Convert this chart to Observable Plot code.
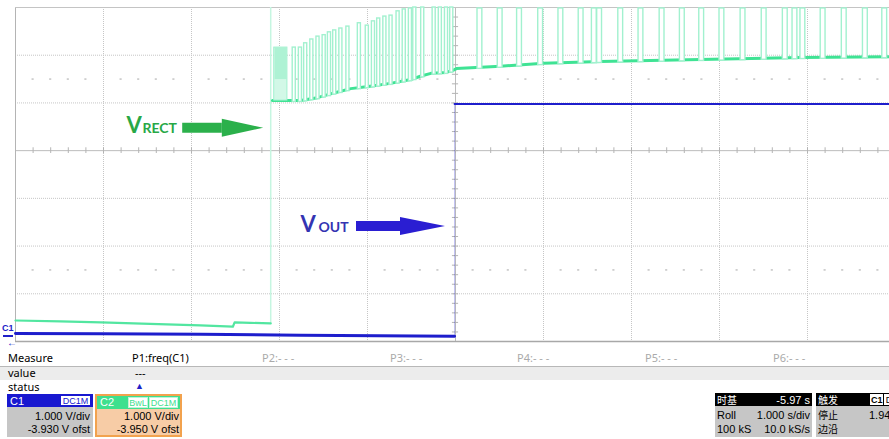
<!DOCTYPE html>
<html><head><meta charset="utf-8">
<script src="https://cdn.jsdelivr.net/npm/d3@7"></script>
<script src="https://cdn.jsdelivr.net/npm/@observablehq/plot@0.6"></script>
<style>
html,body{margin:0;padding:0;background:#fff;overflow:hidden;width:889px;height:439px;}
#wrap{position:relative;width:889px;height:439px;overflow:hidden;font-family:"Liberation Sans",Arial,sans-serif;color:#000;}
#chart{position:absolute;left:0;top:0;}
.a{position:absolute;white-space:nowrap;line-height:1;}
.lbl{font-size:11px;font-family:"Noto Sans","Liberation Sans",sans-serif;line-height:12px;}
.box{position:absolute;box-sizing:border-box;}
.hdr{position:absolute;left:0;right:0;top:0;height:13px;}
.bd{position:absolute;left:0;right:0;top:13px;bottom:0;}
.t{position:absolute;font-size:11px;line-height:12px;white-space:nowrap;}
.cjk{font-family:"Noto Sans CJK SC",sans-serif;font-size:10px;line-height:12px;}
.tag{position:absolute;top:1px;height:11px;box-sizing:border-box;background:#fff;font-size:9px;line-height:10px;text-align:center;}
</style></head><body><div id="wrap"><div id="chart"></div>
<div class="a" style="left:2px;top:324px;font-size:9px;color:#2020c8;font-weight:bold;">C1</div>
<div class="a" style="left:3px;top:335px;width:10px;height:2px;background:#2020c8;"></div>
<div class="a" style="left:7px;top:338px;font-size:10px;color:#2020c8;">&#8592;</div>
<div class="a lbl" style="left:8px;top:352px;">Measure</div>
<div class="a lbl" style="left:132px;top:352px;">P1:freq(C1)</div>
<div class="a lbl" style="left:262px;top:352px;color:#aaa;">P2:- - -</div>
<div class="a lbl" style="left:390px;top:352px;color:#aaa;">P3:- - -</div>
<div class="a lbl" style="left:517px;top:352px;color:#aaa;">P4:- - -</div>
<div class="a lbl" style="left:645px;top:352px;color:#aaa;">P5:- - -</div>
<div class="a lbl" style="left:773px;top:352px;color:#aaa;">P6:- - -</div>
<div class="a" style="left:0;top:366px;width:889px;height:1px;background:#b8b8b8;"></div>
<div class="a" style="left:0;top:367px;width:889px;height:13px;background:#ececec;"></div>
<div class="a lbl" style="left:8px;top:367px;">value</div>
<div class="a lbl" style="left:135px;top:367px;">---</div>
<div class="a lbl" style="left:8px;top:381px;">status</div>
<div class="a" style="left:135px;top:382px;font-size:9px;color:#2020c8;">&#9650;</div>

<div class="box" style="left:7px;top:394px;width:86px;height:43px;">
  <div class="hdr" style="background:#1818d0;"></div>
  <div class="t" style="left:3px;top:1px;color:#fff;">C1</div>
  <div class="tag" style="left:53px;width:31px;color:#1818d0;border:1px solid #1818d0;">DC1M</div>
  <div class="bd" style="background:#c6c6c6;"></div>
  <div class="t" style="right:3px;top:16px;">1.000 V/div</div>
  <div class="t" style="right:3px;top:29px;">-3.930 V ofst</div>
</div>
<div class="box" style="left:95px;top:394px;width:87px;height:43px;border:2px solid #f2a24e;">
  <div class="hdr" style="background:#3ee08e;"></div>
  <div class="t" style="left:3px;top:0;color:#fff;">C2</div>
  <div class="tag" style="left:31px;width:20px;color:#3ee08e;border:1px solid #bdf3d8;">BwL</div>
  <div class="tag" style="left:52px;width:29px;color:#3ee08e;border:1px solid #bdf3d8;">DC1M</div>
  <div class="bd" style="background:#f7cca6;"></div>
  <div class="t" style="right:1px;top:14px;">1.000 V/div</div>
  <div class="t" style="right:1px;top:27px;">-3.950 V ofst</div>
</div>
<div class="box" style="left:715px;top:393px;width:97px;height:44px;">
  <div class="hdr" style="background:#000;"></div>
  <div class="t cjk" style="left:2px;top:1px;color:#fff;">时基</div>
  <div class="t" style="right:2px;top:1px;color:#fff;">-5.97 s</div>
  <div class="bd" style="background:#c6c6c6;"></div>
  <div class="t" style="left:2px;top:16px;">Roll</div>
  <div class="t" style="right:2px;top:16px;">1.000 s/div</div>
  <div class="t" style="left:2px;top:30px;">100 kS</div>
  <div class="t" style="right:2px;top:30px;">10.0 kS/s</div>
</div>
<div class="box" style="left:816px;top:393px;width:80px;height:44px;">
  <div class="hdr" style="background:#000;"></div>
  <div class="t cjk" style="left:2px;top:1px;color:#fff;">触发</div>
  <div class="tag" style="left:54px;width:13px;color:#000;border:1px solid #fff;font-weight:bold;">C1</div>
  <div class="tag" style="left:68px;width:10px;color:#000;border:1px solid #fff;">D</div>
  <div class="bd" style="background:#c6c6c6;"></div>
  <div class="t cjk" style="left:2px;top:16px;">停止</div>
  <div class="t" style="left:53px;top:16px;">1.94</div>
  <div class="t cjk" style="left:2px;top:30px;">边沿</div>
</div>
</div>
<script>
// time in s (1 s/div), voltage in V (1 V/div, measured from bottom graticule line)
const vrectPreT = [0, 0.51, 0.97, 1.53, 2.10, 2.47, 2.49, 2.67, 2.90];
const vrectPreV = [0.44, 0.42, 0.40, 0.37, 0.34, 0.31, 0.40, 0.39, 0.38];
const vrectPostT = [2.92, 3.24, 3.43, 3.64, 3.81, 4.03, 4.26, 4.49, 4.60, 4.72, 4.89, 4.97, 5.01, 5.51, 6.00, 6.65, 7.78, 8.92, 9.93, 10];
const vrectPostV = [5.05, 5.05, 5.11, 5.22, 5.30, 5.35, 5.41, 5.49, 5.56, 5.62, 5.64, 5.68, 5.72, 5.77, 5.83, 5.87, 5.91, 5.95, 5.97, 5.98];
const spikeT = [3.15, 3.22, 3.28, 3.35, 3.42, 3.49, 3.55, 3.61, 3.68, 3.76, 3.89, 3.98, 4.05, 4.11, 4.18, 4.25, 4.33, 4.40, 4.47, 4.52, 4.61, 4.74, 4.81, 4.88, 4.94,
  5.25, 5.48, 5.70, 5.94, 6.17, 6.40, 6.55, 6.61, 6.85, 7.08, 7.32, 7.55, 7.77, 8.00, 8.24, 8.48, 8.72, 8.83, 8.92, 9.15, 9.39, 9.63, 9.85];
const spikeTop = [6.16, 6.16, 6.25, 6.33, 6.39, 6.42, 6.48, 6.52, 6.56, 6.60, 6.67, 6.62, 6.71, 6.77, 6.81, 6.83, 6.92, 6.96, 6.98, 7, 7, 7, 7, 7, 7,
  6.98, 6.98, 6.98, 6.98, 6.98, 6.98, 6.98, 6.98, 6.98, 6.98, 6.98, 6.98, 6.98, 6.98, 6.98, 6.98, 6.98, 6.98, 6.98, 6.98, 6.98, 6.98, 6.98];
const burstT = [2.94, 3.09];
const burstV = [5.49, 6.16];
const rectJumpT = 2.90;
const voutLowT = [0, 0.97, 2.10, 3.24, 4.99];
const voutLowV = [0.17, 0.16, 0.15, 0.13, 0.11];
const voutHighT = [4.99, 10];
const voutHighV = [4.98, 4.98];
// graticule
const majorX = [1, 2, 3, 4, 6, 7, 8, 9];
const majorY = [1, 2, 3, 5, 6];
const minorX = d3.range(1, 50).map(i => i / 5);
const minorY = d3.range(1, 35).map(i => i / 5);
const dotRowsY = [1.5, 5.5];
// annotations
const labels = [
  {name: "VRECT", big: "V", small: "RECT", x: 1.26, xs: 1.443, y: 4.36, color: "#28a846",
   arrow: [1.90, 2.35, 2.82], ay: 4.47, arrowColor: "#2bb04b"},
  {name: "VOUT", big: "V", small: "OUT", x: 3.24, xs: 3.443, y: 2.285, color: "#3434b2",
   arrow: [3.875, 4.375, 4.886], ay: 2.41, arrowColor: "#2a1ed2"}
];

const GREEN = "#3fe394", GREEN_LIGHT = "#a2f1cf", BLUE = "#1e1ecc", GRID = "#c6c6c6";
const zip = (t, v) => t.map((d, i) => ({t: d, v: v[i]}));
const baseAt = d3.scaleLinear(vrectPostT, vrectPostV);
const spikes = spikeT.map((t, i) => ({t, top: spikeTop[i], w: t < 5 ? 0.035 : 0.055}));
const dotPts = dotRowsY.flatMap(y => minorX.filter(x => Math.abs(x - Math.round(x)) > 1e-6).map(x => ({x, y})));

const marks = [
  Plot.ruleX(majorX, {stroke: GRID, strokeDasharray: "1,1"}),
  Plot.ruleY(majorY, {stroke: GRID, strokeDasharray: "1,1"}),
  Plot.ruleX([5], {stroke: "#bcbcbc"}),
  Plot.ruleY([4], {stroke: "#bcbcbc"}),
  Plot.ruleY(minorY, {y: d => d, x1: 4.965, x2: 5.035, stroke: "#b4b4b4"}),
  Plot.ruleX(minorX, {x: d => d, y1: 3.94, y2: 4.06, stroke: "#b4b4b4"}),
  Plot.ruleY(dotPts, {y: "y", x1: d => d.x - 0.012, x2: d => d.x + 0.012, stroke: "#c4c4c4", strokeWidth: 1.5}),
  Plot.ruleX([0], {stroke: "#b4b4b4"}),
  Plot.ruleY([7], {stroke: "#c4c4c4"}),
  Plot.ruleY([0], {stroke: "#a8a8a8", strokeWidth: 1.5}),
  // VRECT channel
  Plot.ruleX([rectJumpT], {y1: vrectPreV[vrectPreV.length - 1], y2: 7, stroke: "#c6f6e1", strokeWidth: 1.5}),
  Plot.line(zip(vrectPreT, vrectPreV), {x: "t", y: "v", stroke: "#52e6a0", strokeWidth: 2.2}),
  Plot.line(zip(vrectPostT, vrectPostV), {x: "t", y: "v", stroke: GREEN, strokeWidth: 3}),
  Plot.rect([{}], {x1: burstT[0], x2: burstT[1], y1: baseAt(burstT[0]), y2: burstV[1], fill: "#d2f8e7", stroke: GREEN_LIGHT}),
  Plot.rect([{}], {x1: burstT[0] + 0.01, x2: burstT[1], y1: burstV[0], y2: burstV[1], fill: "#aef2d4"}),
  Plot.rect(spikes, {x1: "t", x2: d => d.t + d.w, y1: d => baseAt(d.t) - 0.03, y2: "top", fill: "white", stroke: GREEN_LIGHT, strokeWidth: 1.4}),
  // VOUT channel
  Plot.line(zip(voutLowT, voutLowV), {x: "t", y: "v", stroke: BLUE, strokeWidth: 3}),
  Plot.ruleX([voutHighT[0]], {y1: voutLowV[voutLowV.length - 1], y2: voutHighV[0], stroke: BLUE, strokeOpacity: 0.3}),
  Plot.line(zip(voutHighT, voutHighV), {x: "t", y: "v", stroke: BLUE, strokeWidth: 2})
];
for (const L of labels) {
  const [a0, a1, a2] = L.arrow;
  marks.push(
    Plot.areaY([{x: a0, y1: L.ay - 0.105, y2: L.ay + 0.105}, {x: a1, y1: L.ay - 0.105, y2: L.ay + 0.105}], {x: "x", y1: "y1", y2: "y2", fill: L.arrowColor}),
    Plot.areaY([{x: a1, y1: L.ay - 0.19, y2: L.ay + 0.19}, {x: a2, y1: L.ay, y2: L.ay}], {x: "x", y1: "y1", y2: "y2", fill: L.arrowColor}),
    Plot.text([L], {x: "x", y: "y", text: "big", textAnchor: "start", lineAnchor: "bottom", fontSize: 22, fontWeight: 700, fontFamily: "Lato", fill: L.color}),
    Plot.text([L], {x: "xs", y: "y", text: "small", textAnchor: "start", lineAnchor: "bottom", fontSize: 14, fontWeight: 700, fontFamily: "Lato", fill: L.color})
  );
}

const chart = Plot.plot({
  width: 889, height: 348,
  marginLeft: 15, marginRight: 0, marginTop: 7, marginBottom: 7,
  x: {domain: [0, 10], range: [15, 895], axis: null},
  y: {domain: [0, 7], axis: null},
  style: {background: "transparent", overflow: "hidden"},
  marks
});
document.getElementById("chart").appendChild(chart);
</script></body></html>
